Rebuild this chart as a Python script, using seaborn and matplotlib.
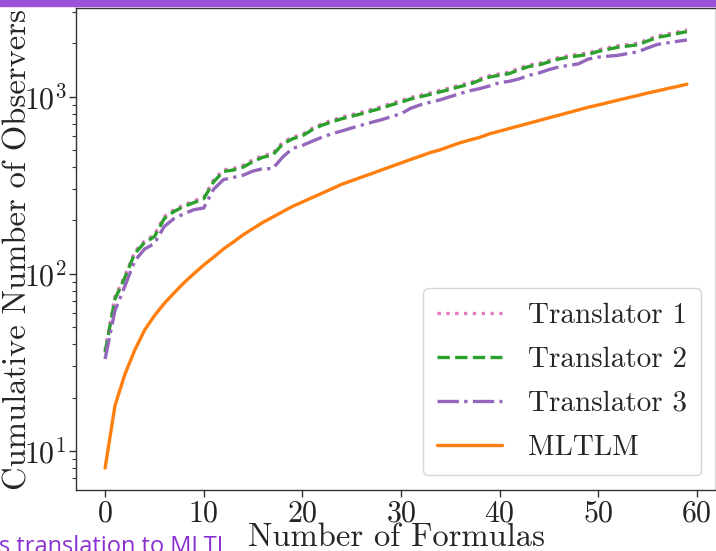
import numpy as np
import pandas as pd
import matplotlib
matplotlib.use("Agg")
import matplotlib.pyplot as plt
from matplotlib.patches import Rectangle
import seaborn as sns

# ---- data ----
formulas = list(range(60))

translator1 = [37, 74, 97, 133, 153, 166, 210, 230, 245, 258,
               270, 338, 386, 393, 410, 440, 465, 478, 552, 590,
               612, 662, 703, 735, 766, 790, 816, 846, 878, 915,
               950, 990, 1020, 1050, 1085, 1122, 1163, 1198, 1262, 1315,
               1345, 1376, 1448, 1510, 1540, 1600, 1662, 1703, 1734, 1765,
               1836, 1887, 1938, 1968, 2000, 2100, 2200, 2255, 2315, 2380]

translator2 = [36, 72, 95, 130, 150, 162, 205, 225, 240, 252,
               265, 330, 378, 385, 400, 430, 455, 468, 540, 578,
               600, 650, 690, 720, 750, 775, 800, 830, 860, 897,
               930, 970, 1000, 1030, 1064, 1100, 1140, 1175, 1238, 1290,
               1320, 1350, 1420, 1480, 1510, 1570, 1630, 1670, 1700, 1730,
               1800, 1850, 1900, 1930, 1960, 2060, 2160, 2210, 2270, 2330]

translator3 = [33, 62, 85, 118, 138, 148, 185, 205, 218, 230,
               235, 300, 340, 350, 360, 380, 392, 392, 455, 510,
               530, 560, 590, 617, 640, 665, 690, 715, 740, 770,
               800, 860, 900, 930, 960, 1000, 1040, 1080, 1110, 1150,
               1200, 1220, 1260, 1320, 1360, 1420, 1470, 1500, 1530, 1630,
               1670, 1690, 1710, 1750, 1790, 1880, 1970, 2010, 2050, 2090]

mltlm = [8, 18, 27, 37, 48, 58, 68, 78, 89, 100,
         112, 124, 138, 151, 166, 180, 195, 209, 224, 240,
         254, 269, 285, 302, 320, 335, 351, 367, 385, 403,
         422, 442, 462, 484, 501, 525, 549, 569, 589, 617,
         638, 661, 684, 708, 733, 759, 785, 813, 841, 871,
         897, 925, 955, 984, 1014, 1047, 1077, 1109, 1140, 1175]

series_names = ["Translator 1", "Translator 2", "Translator 3", "MLTLM"]
colors = ["#e377c2", "#2ca02c", "#9467bd", "#ff7f0e"]
styles = [":", "--", "-.", "-"]

df = pd.DataFrame({"formulas": formulas,
                   "Translator 1": translator1,
                   "Translator 2": translator2,
                   "Translator 3": translator3,
                   "MLTLM": mltlm})

# ---- style ----
sns.set_theme(style="ticks")
plt.rcParams["font.family"] = ["cmr10", "DejaVu Serif"]
plt.rcParams["mathtext.fontset"] = "cm"
plt.rcParams["axes.unicode_minus"] = False
plt.rcParams["axes.formatter.use_mathtext"] = True

fig = plt.figure(figsize=(7.16, 5.51), dpi=100)
ax = fig.add_axes([76 / 716, 1 - 490 / 551, 640 / 716, 482 / 551])

for name, c, ls in zip(series_names, colors, styles):
    sns.lineplot(data=df, x="formulas", y=name, ax=ax, color=c,
                 linestyle=ls, linewidth=2.4, label=name)

ax.set_yscale("log")
ax.set_xticks([0, 10, 20, 30, 40, 50, 60])
ax.set_xlabel("Number of Formulas", fontsize=23.5, labelpad=-3)
ax.set_ylabel("Cumulative Number of Observers", fontsize=23.5)
ax.yaxis.set_label_coords(-0.068, 0.5)
ax.tick_params(axis="both", which="major", labelsize=21.5, length=5, width=1,
               pad=2, colors="#333333", labelcolor="#222222")
ax.tick_params(axis="y", which="minor", length=3, width=0.8, colors="#333333")
for sp in ax.spines.values():
    sp.set_color("#333333")
    sp.set_linewidth(1.0)

leg = ax.legend(loc="lower right", fontsize=21, handlelength=2.2,
                labelspacing=0.6, borderpad=0.5, handletextpad=0.9)
leg.get_frame().set_edgecolor("#cccccc")

# slide decorations
fig.patches.append(Rectangle((0, 1 - 6 / 551), 1, 6 / 551,
                             transform=fig.transFigure, color="#9b52d8",
                             zorder=10))
fig.text(-0.002, -0.014, "s translation to MLTL", color="#8a2fd0",
         fontsize=17, family=["Open Sans", "DejaVu Sans"],
         ha="left", va="bottom")

fig.savefig("out.png", dpi=100)
